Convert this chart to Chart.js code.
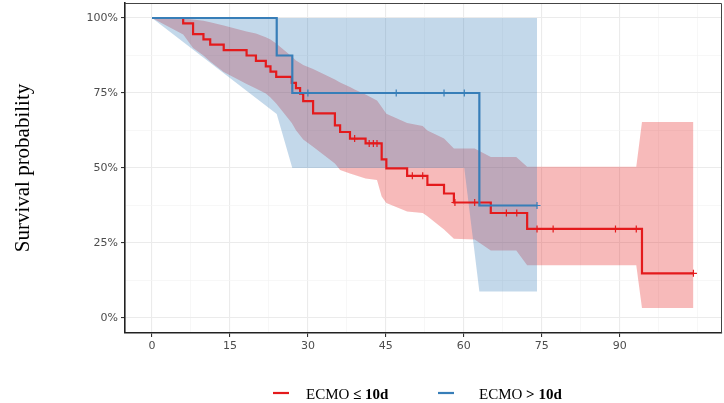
<!DOCTYPE html>
<html lang="en">
<head>
  <meta charset="UTF-8" />
  <title>Survival probability</title>
  <script src="https://cdn.jsdelivr.net/npm/chart.js"></script>
  <style>
    body { margin: 0; background: #fff; }
  </style>
</head>
<body>
  <canvas id="myChart" width="724" height="403"></canvas>

  <script>
    // Kaplan-Meier curve, ECMO <= 10d (days, %)
    const redTime = [0, 6, 7.9, 9.9, 11.2, 13.8, 18.2, 20, 21.9, 22.8, 23.9, 26.9, 27.7, 28.5, 29.1, 31, 35.2, 36.2, 38.1, 41.1, 44.2, 45.1, 49.1, 53, 56.2, 58.1, 65.2, 72.2, 94.3, 104.2];
    const redSurv = [100, 98.2, 94.6, 92.9, 91.1, 89.3, 87.5, 85.7, 83.9, 82.1, 80.4, 78.4, 76.6, 74.8, 72.3, 68.2, 64.2, 62.0, 59.8, 58.2, 52.9, 49.9, 47.4, 44.4, 41.5, 38.5, 35.0, 29.7, 14.9, 14.9];
    const redCensTime = [39, 41.8, 42.6, 43.3, 50.1, 52.1, 58.3, 62.1, 68.2, 70.2, 74.1, 77.2, 89.2, 93.2, 104.2];
    const redCensSurv = [59.8, 58.2, 58.2, 58.2, 47.4, 47.4, 38.5, 38.5, 35, 35, 29.7, 29.7, 29.7, 29.7, 14.9];
    // confidence band, ECMO <= 10d
    const redCiTime  = [0, 6, 7.9, 9.9, 11.2, 13.8, 18.2, 20, 21.9, 22.8, 23.9, 26.9, 27.7, 28.5, 29.1, 31, 35.2, 36.2, 38.1, 39, 41.1, 43.3, 44.2, 45.1, 49.1, 52.1, 53, 56.2, 58.1, 62.1, 65.2, 70.1, 72.2, 93.2, 94.3, 104.2];
    const redCiLower = [100, 94.5, 90, 87.5, 85.5, 82, 78, 76.5, 74.8, 73.5, 71.5, 65, 62.6, 60.8, 59.5, 57.1, 51.5, 49.3, 48.2, 47.7, 46.5, 46, 40.5, 38.3, 35.5, 35, 33.9, 29.5, 26.4, 26.2, 22.5, 22.5, 17.6, 17.6, 3.3, 3.3];
    const redCiUpper = [100, 99.8, 99.5, 99.1, 98.6, 97.5, 95.5, 94.8, 93.6, 92.8, 91.5, 87.2, 85.8, 85, 84.3, 83, 79.5, 78.5, 77, 76.2, 74.5, 72.5, 70.3, 68.1, 65, 64, 62.5, 59.8, 56.5, 56.5, 53.7, 53.7, 50.4, 50.4, 65.3, 65.3];

    // Kaplan-Meier curve, ECMO > 10d
    const blueTime = [0, 24, 27, 63, 74.1];
    const blueSurv = [100, 87.5, 75, 37.5, 37.5];
    const blueCensTime = [30, 47, 56.2, 60.1, 74.1];
    const blueCensSurv = [75, 75, 75, 75, 37.5];
    const blueCiTime  = [0, 24, 27, 60.1, 63, 74.1];
    const blueCiLower = [100, 68, 50, 50, 8.8, 8.8];
    const blueCiUpper = [100, 100, 100, 100, 100, 100];

    const xMajor = [0, 15, 30, 45, 60, 75, 90];
    const yMajor = [0, 25, 50, 75, 100];

    const RED = '#E41A1C';
    const BLUE = '#377EB8';

    const pts = (xs, ys) => xs.map((x, i) => ({ x: x, y: ys[i] }));
    const isMajorX = v => xMajor.includes(v);
    const isMajorY = v => yMajor.includes(v);

    // extra drawing: panel frame, y title, legend
    const extras = {
      id: 'extras',
      afterDraw(chart) {
        const c = chart.ctx;
        const a = chart.chartArea;
        c.save();
        c.strokeStyle = '#444';
        c.lineWidth = 1;
        c.beginPath();
        c.moveTo(a.left, a.top + 0.5);
        c.lineTo(a.right - 0.5, a.top + 0.5);
        c.lineTo(a.right - 0.5, a.bottom);
        c.stroke();

        c.fillStyle = '#000';
        c.font = '21px "Liberation Serif"';
        c.textAlign = 'center';
        c.textBaseline = 'middle';
        c.translate(23, 168);
        c.rotate(-Math.PI / 2);
        c.fillText('Survival probability', 0, 0);
        c.restore();

        c.save();
        const items = [
          { color: RED, x0: 273, x1: 289, tx: 306, a: 'ECMO', b: '≤ 10d' },
          { color: BLUE, x0: 438, x1: 454, tx: 479, a: 'ECMO', b: '> 10d' }
        ];
        items.forEach(it => {
          c.strokeStyle = it.color;
          c.lineWidth = 2.2;
          c.beginPath();
          c.moveTo(it.x0, 393);
          c.lineTo(it.x1, 393);
          c.stroke();
          c.fillStyle = '#000';
          c.textBaseline = 'alphabetic';
          c.textAlign = 'left';
          c.font = '15px "Liberation Serif"';
          c.fillText(it.a, it.tx, 399);
          const w = c.measureText(it.a + ' ').width;
          c.font = 'bold 15px "Liberation Serif"';
          c.fillText(it.b, it.tx + w, 399);
        });
        c.restore();
      }
    };

    const ctx = document.getElementById('myChart').getContext('2d');
    new Chart(ctx, {
      type: 'line',
      data: {
        datasets: [
          { data: pts(redCensTime, redCensSurv), showLine: false, pointStyle: 'cross', pointRadius: 3.5,
            borderColor: RED, borderWidth: 1.2, order: 0 },
          { data: pts(blueCensTime, blueCensSurv), showLine: false, pointStyle: 'cross', pointRadius: 3.5,
            borderColor: BLUE, borderWidth: 1.2, order: 0 },
          { data: pts(blueTime, blueSurv), stepped: 'before', borderColor: BLUE, borderWidth: 2.2,
            pointRadius: 0, fill: false, order: 1 },
          { data: pts(redTime, redSurv), stepped: 'before', borderColor: RED, borderWidth: 2.2,
            pointRadius: 0, fill: false, order: 2 },
          // blue band
          { data: pts(blueCiTime, blueCiLower), borderWidth: 0, pointRadius: 0, fill: false, order: 5 },
          { data: pts(blueCiTime, blueCiUpper), borderWidth: 0, pointRadius: 0, fill: '-1',
            backgroundColor: 'rgba(55,126,184,0.3)', order: 5 },
          // red band
          { data: pts(redCiTime, redCiLower), borderWidth: 0, pointRadius: 0, fill: false, order: 6 },
          { data: pts(redCiTime, redCiUpper), borderWidth: 0, pointRadius: 0, fill: '-1',
            backgroundColor: 'rgba(228,26,28,0.3)', order: 6 }
        ]
      },
      options: {
        responsive: false,
        animation: false,
        devicePixelRatio: 1,
        layout: { autoPadding: false, padding: { left: 80, right: 2, top: 3, bottom: 50 } },
        plugins: { legend: { display: false }, tooltip: { enabled: false } },
        scales: {
          x: {
            type: 'linear',
            min: -5.2,
            max: 109.7,
            afterBuildTicks: s => { s.ticks = [0, 7.5, 15, 22.5, 30, 37.5, 45, 52.5, 60, 67.5, 75, 82.5, 90, 97.5, 105].map(v => ({ value: v })); },
            afterFit: s => { s.height = 20; s.paddingLeft = 0; s.paddingRight = 0; },
            ticks: {
              autoSkip: false, maxRotation: 0, padding: 3, color: '#4d4d4d',
              font: { family: 'DejaVu Sans', size: 11 },
              callback: v => isMajorX(v) ? String(v) : ''
            },
            grid: {
              tickLength: 4,
              color: c => isMajorX(c.tick.value) ? '#ebebeb' : '#f3f3f3',
              lineWidth: c => isMajorX(c.tick.value) ? 1.1 : 0.7,
              tickColor: c => isMajorX(c.tick.value) ? '#333' : 'rgba(0,0,0,0)'
            },
            border: { display: true, color: '#222', width: 1.6 }
          },
          y: {
            min: -5,
            max: 105,
            afterBuildTicks: s => { s.ticks = [0, 12.5, 25, 37.5, 50, 62.5, 75, 87.5, 100].map(v => ({ value: v })); },
            afterFit: s => { s.width = 45; s.paddingTop = 0; s.paddingBottom = 0; },
            ticks: {
              autoSkip: false, padding: 3, color: '#4d4d4d',
              font: { family: 'DejaVu Sans', size: 11 },
              callback: v => isMajorY(v) ? v + '%' : ''
            },
            grid: {
              tickLength: 4,
              color: c => isMajorY(c.tick.value) ? '#ebebeb' : '#f3f3f3',
              lineWidth: c => isMajorY(c.tick.value) ? 1.1 : 0.7,
              tickColor: c => isMajorY(c.tick.value) ? '#333' : 'rgba(0,0,0,0)'
            },
            border: { display: true, color: '#222', width: 1.6 }
          }
        }
      },
      plugins: [extras]
    });
  </script>
</body>
</html>
